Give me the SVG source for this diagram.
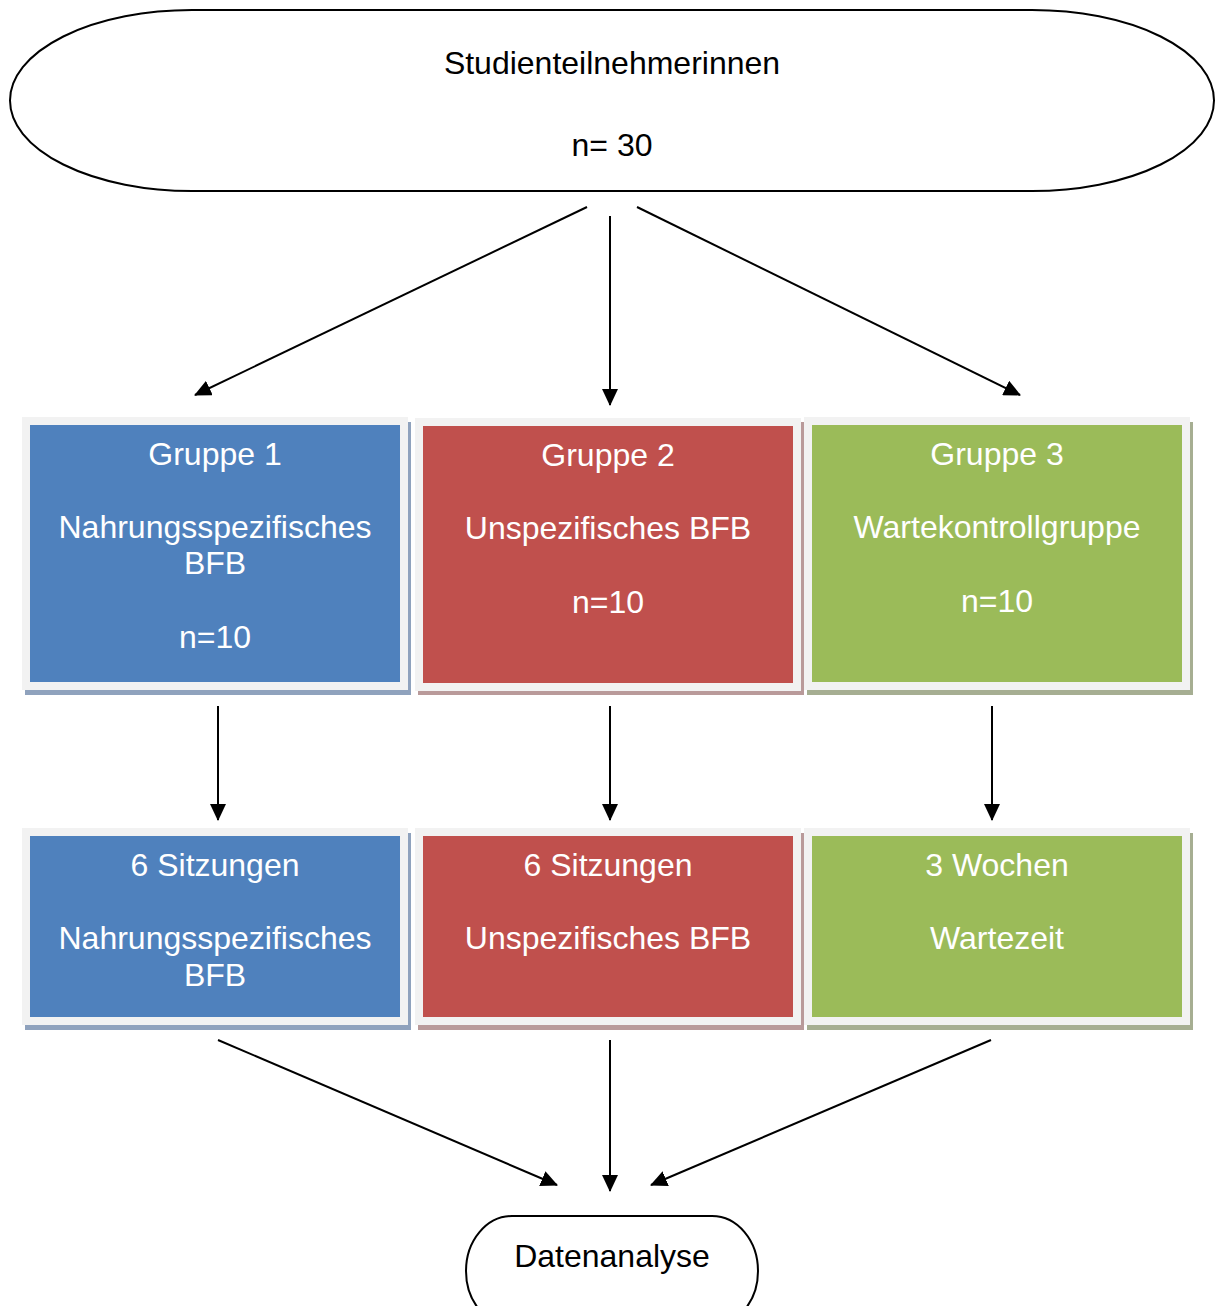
<svg xmlns="http://www.w3.org/2000/svg" width="1218" height="1306" viewBox="0 0 1218 1306">
<style>
text{font-family:"Liberation Sans",Arial,sans-serif;font-size:32px;text-anchor:middle}
.w{fill:#fff}
.k{fill:#000}
.term{fill:#fff;stroke:#000;stroke-width:2}
.frame{fill:#f2f2f2}
.blue{fill:#4f81bd}.red{fill:#c0504d}.green{fill:#9bbb59}
.sb{fill:#8fa2bd}.sr{fill:#b99a9a}.sg{fill:#a6ae92}
.conn line{stroke:#000;stroke-width:2;marker-end:url(#ah)}
</style>
<defs>
<marker id="ah" markerUnits="userSpaceOnUse" markerWidth="18" markerHeight="16" refX="16" refY="8" orient="auto" viewBox="0 0 18 16">
<path d="M0,0 L17,8 L0,16 z" fill="#000"/>
</marker>
</defs>
<rect width="1218" height="1306" fill="#fff"/>

<g id="start">
<rect class="term" x="10" y="10" width="1204" height="181" rx="182" ry="90.5"/>
<text class="k" x="612" y="74">Studienteilnehmerinnen</text>
<text class="k" x="612" y="156">n= 30</text>
</g>

<g id="g1">
<rect class="sb" x="25" y="689" width="386" height="6"/>
<rect class="sb" x="407" y="422" width="4" height="273"/>
<rect class="frame" x="22" y="417" width="386" height="273"/>
<rect class="blue" x="30" y="425" width="370" height="257"/>
<text class="w" x="215" y="465">Gruppe 1</text>
<text class="w" x="215" y="538">Nahrungsspezifisches</text>
<text class="w" x="215" y="574">BFB</text>
<text class="w" x="215" y="648">n=10</text>
</g>

<g id="g2">
<rect class="sr" x="418" y="689" width="386" height="6"/>
<rect class="sr" x="800" y="422" width="4" height="273"/>
<rect class="frame" x="415" y="418" width="386" height="273"/>
<rect class="red" x="423" y="426" width="370" height="257"/>
<text class="w" x="608" y="466">Gruppe 2</text>
<text class="w" x="608" y="539">Unspezifisches BFB</text>
<text class="w" x="608" y="613">n=10</text>
</g>

<g id="g3">
<rect class="sg" x="807" y="689" width="386" height="6"/>
<rect class="sg" x="1189" y="422" width="4" height="273"/>
<rect class="frame" x="804" y="417" width="386" height="273"/>
<rect class="green" x="812" y="425" width="370" height="257"/>
<text class="w" x="997" y="465">Gruppe 3</text>
<text class="w" x="997" y="538">Wartekontrollgruppe</text>
<text class="w" x="997" y="612">n=10</text>
</g>

<g id="s1">
<rect class="sb" x="25" y="1024" width="386" height="6"/>
<rect class="sb" x="407" y="833" width="4" height="197"/>
<rect class="frame" x="22" y="828" width="386" height="197"/>
<rect class="blue" x="30" y="836" width="370" height="181"/>
<text class="w" x="215" y="876">6 Sitzungen</text>
<text class="w" x="215" y="949">Nahrungsspezifisches</text>
<text class="w" x="215" y="986">BFB</text>
</g>

<g id="s2">
<rect class="sr" x="418" y="1024" width="386" height="6"/>
<rect class="sr" x="800" y="833" width="4" height="197"/>
<rect class="frame" x="415" y="828" width="386" height="197"/>
<rect class="red" x="423" y="836" width="370" height="181"/>
<text class="w" x="608" y="876">6 Sitzungen</text>
<text class="w" x="608" y="949">Unspezifisches BFB</text>
</g>

<g id="s3">
<rect class="sg" x="807" y="1024" width="386" height="6"/>
<rect class="sg" x="1189" y="833" width="4" height="197"/>
<rect class="frame" x="804" y="828" width="386" height="197"/>
<rect class="green" x="812" y="836" width="370" height="181"/>
<text class="w" x="997" y="876">3 Wochen</text>
<text class="w" x="997" y="949">Wartezeit</text>
</g>

<g id="end">
<rect class="term" x="466" y="1216" width="292" height="110" rx="46" ry="55"/>
<text class="k" x="612" y="1267">Datenanalyse</text>
</g>

<g id="connectors" class="conn">
<line x1="587" y1="207" x2="195" y2="395"/>
<line x1="610" y1="216" x2="610" y2="405"/>
<line x1="637" y1="207" x2="1020" y2="395"/>
<line x1="218" y1="706" x2="218" y2="820"/>
<line x1="610" y1="706" x2="610" y2="820"/>
<line x1="992" y1="706" x2="992" y2="820"/>
<line x1="218" y1="1040" x2="557" y2="1185"/>
<line x1="610" y1="1040" x2="610" y2="1191"/>
<line x1="991" y1="1040" x2="651" y2="1185"/>
</g>
</svg>
